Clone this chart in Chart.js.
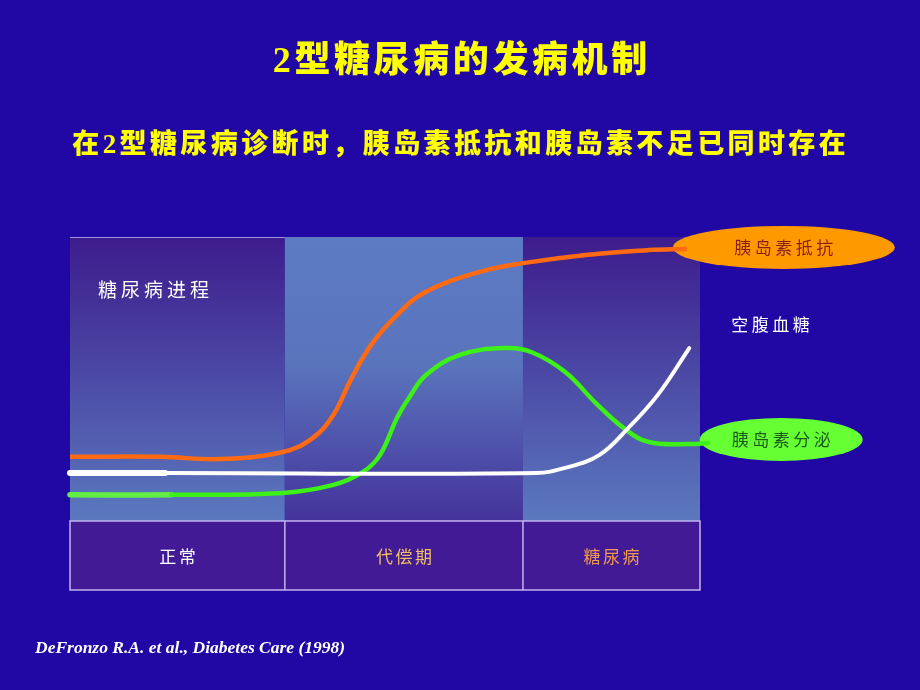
<!DOCTYPE html>
<html>
<head>
<meta charset="utf-8">
<script src="https://cdn.jsdelivr.net/npm/chart.js@4.4.1/dist/chart.umd.min.js"></script>
<style>
html,body{margin:0;padding:0;background:#2107a4;}
#wrap{position:relative;width:920px;height:690px;}
canvas{display:block;}
</style>
</head>
<body>
<div id="wrap"><canvas id="c" width="920" height="690"></canvas></div>
<script>
// ---- Data (x: disease time course 0-100, y: relative level 0-100) ----
const titleText = '2型糖尿病的发病机制';
const subtitleText = '在2型糖尿病诊断时，胰岛素抵抗和胰岛素不足已同时存在';
const citationText = 'DeFronzo R.A. et al., Diabetes Care (1998)';
const axisCaption = '糖尿病进程';

const stageLabels = ['正常', '代偿期', '糖尿病'];
const stageEdges = [0, 34.1, 71.9, 100];

const seriesNames = ['胰岛素抵抗', '空腹血糖', '胰岛素分泌'];

const timeResistance = [0, 14.4, 23.8, 33.8, 38.5, 41.8, 44.4, 47.8, 51.9, 56.5, 65.2, 71.9, 81.9, 91.9, 97.9];
const insulinResistance = [22.6, 22.6, 21.8, 24.3, 29.2, 37.3, 49, 62, 72.5, 80.7, 87.8, 90.8, 93.7, 95.4, 95.8];

const timeGlucose = [0, 15.1, 73.9, 78.6, 84, 88.6, 93.3, 98.3];
const fastingGlucose = [16.9, 16.9, 16.9, 18.7, 23.2, 32.7, 44.4, 60.9];

const timeSecretion = [0, 16.1, 33.8, 41.8, 46.5, 49.2, 51.9, 53.8, 56.5, 61.9, 69.2, 73.2, 78.6, 83.3, 87.9, 91.9, 98.6, 101.3];
const insulinSecretion = [9.2, 9.2, 9.9, 12.7, 17.3, 23.2, 36.3, 43.3, 51.4, 58.5, 60.9, 59.5, 52.5, 41.9, 32.7, 27.8, 27.1, 27.5];

const toPoints = (xs, ys) => xs.map((x, i) => ({x: x, y: ys[i]}));

const CJK = '"Noto Sans CJK SC", sans-serif';
const SERIF_CJK = '"Liberation Serif", "Noto Sans CJK SC", serif';

function spacedText(ctx, text, cx, cy, font, color, spacing, align) {
  ctx.save();
  ctx.font = font;
  ctx.fillStyle = color;
  ctx.textBaseline = 'middle';
  ctx.textAlign = 'left';
  let hasLS = ('letterSpacing' in ctx);
  if (hasLS) ctx.letterSpacing = spacing + 'px';
  const w = ctx.measureText(text).width - (hasLS ? spacing : 0);
  let x = cx;
  if (align === 'center') x = cx - w / 2;
  ctx.fillText(text, x, cy);
  ctx.restore();
}

const slidePlugin = {
  id: 'slide',
  beforeDatasetsDraw(chart) {
    const ctx = chart.ctx;
    const a = chart.chartArea;
    const xs = chart.scales.x;
    ctx.save();
    for (let i = 0; i < stageLabels.length; i++) {
      const x0 = xs.getPixelForValue(stageEdges[i]);
      const x1 = xs.getPixelForValue(stageEdges[i + 1]);
      const g = ctx.createLinearGradient(0, a.top, 0, a.bottom);
      if (i === 1) { g.addColorStop(0, '#5c7bc3'); g.addColorStop(0.45, '#5a74bc'); g.addColorStop(1, '#44339b'); }
      else { g.addColorStop(0, '#3d1c8c'); g.addColorStop(1, '#5b79bf'); }
      ctx.fillStyle = g;
      ctx.fillRect(x0, a.top, x1 - x0, a.bottom - a.top);
    }
    ctx.strokeStyle = '#9d8fe0';
    ctx.lineWidth = 1;
    ctx.beginPath();
    ctx.moveTo(xs.getPixelForValue(stageEdges[0]), a.top + 0.5);
    ctx.lineTo(xs.getPixelForValue(stageEdges[1]), a.top + 0.5);
    ctx.stroke();
    const tTop = a.bottom, tBot = a.bottom + 69;
    ctx.fillStyle = '#421a95';
    ctx.fillRect(a.left, tTop, a.right - a.left, tBot - tTop);
    ctx.strokeStyle = '#c4b4ee';
    ctx.lineWidth = 1.5;
    ctx.strokeRect(a.left, tTop, a.right - a.left, tBot - tTop);
    for (let i = 1; i < stageEdges.length - 1; i++) {
      const x = xs.getPixelForValue(stageEdges[i]);
      ctx.beginPath(); ctx.moveTo(x, tTop); ctx.lineTo(x, tBot); ctx.stroke();
    }
    const endR = chart.getDatasetMeta(0).data; const pr = endR[endR.length - 1];
    const endS = chart.getDatasetMeta(2).data; const ps = endS[endS.length - 1];
    ctx.fillStyle = '#ff9900';
    ctx.beginPath(); ctx.ellipse(pr.x + 97, pr.y - 1.5, 111, 21.5, 0, 0, Math.PI * 2); ctx.fill();
    ctx.fillStyle = '#66ff33';
    ctx.beginPath(); ctx.ellipse(ps.x + 73, ps.y - 3.5, 81.5, 21.5, 0, 0, Math.PI * 2); ctx.fill();
    ctx.restore();
  },
  afterDatasetsDraw(chart) {
    const ctx = chart.ctx;
    const a = chart.chartArea;
    const xs = chart.scales.x;
    const W = chart.width;
    spacedText(ctx, titleText, W / 2, 63, '900 36px ' + SERIF_CJK, '#ffff00', 3.6, 'center');
    spacedText(ctx, subtitleText, W / 2 - 1, 146, '900 27px ' + SERIF_CJK, '#ffff00', 3.4, 'center');
    spacedText(ctx, axisCaption, a.left + 28, a.top + 53, '19px ' + CJK, '#ffffff', 4, 'left');
    const stageColors = ['#ffffff', '#efc060', '#f09a50'];
    for (let i = 0; i < stageLabels.length; i++) {
      const cx = (xs.getPixelForValue(stageEdges[i]) + xs.getPixelForValue(stageEdges[i + 1])) / 2;
      spacedText(ctx, stageLabels[i], cx, a.bottom + 36, '17px ' + CJK, stageColors[i], 2.5, 'center');
    }
    const endR = chart.getDatasetMeta(0).data; const pr = endR[endR.length - 1];
    const endG = chart.getDatasetMeta(1).data; const pg = endG[endG.length - 1];
    const endS = chart.getDatasetMeta(2).data; const ps = endS[endS.length - 1];
    spacedText(ctx, seriesNames[0], pr.x + 97, pr.y - 1.5, '17px ' + CJK, '#8a1e12', 3.5, 'center');
    spacedText(ctx, seriesNames[1], pg.x + 42, pg.y - 23, '17px ' + CJK, '#ffffff', 3.5, 'left');
    spacedText(ctx, seriesNames[2], ps.x + 73, ps.y - 3.5, '17px ' + CJK, '#1c5a1c', 3.5, 'center');
    spacedText(ctx, citationText, 35, 648, 'italic bold 17.5px "Liberation Serif", serif', '#ffffff', 0, 'left');
  }
};

new Chart(document.getElementById('c'), {
  type: 'line',
  data: {
    datasets: [
      {
        label: seriesNames[0],
        data: toPoints(timeResistance, insulinResistance),
        borderColor: '#ff6a12',
        borderWidth: 4.5,
        tension: 0.4,
        pointRadius: 0,
        clip: false,
        borderCapStyle: 'butt'
      },
      {
        label: seriesNames[1],
        data: toPoints(timeGlucose, fastingGlucose),
        borderColor: '#ffffff',
        borderWidth: 4,
        tension: 0.4,
        pointRadius: 0,
        clip: false,
        borderCapStyle: 'round',
        segment: { borderWidth: c => c.p1DataIndex <= 1 ? 6 : 4 }
      },
      {
        label: seriesNames[2],
        data: toPoints(timeSecretion, insulinSecretion),
        borderColor: '#3cf018',
        borderWidth: 4.5,
        tension: 0.4,
        pointRadius: 0,
        clip: false,
        borderCapStyle: 'round',
        segment: {
          borderWidth: c => c.p1DataIndex <= 1 ? 5.5 : 4.5,
          borderColor: c => c.p1DataIndex <= 1 ? '#62ee44' : '#3cf018'
        }
      }
    ]
  },
  options: {
    responsive: false,
    devicePixelRatio: 1,
    animation: false,
    layout: { padding: { left: 70, right: 220, top: 237, bottom: 169 } },
    scales: {
      x: { type: 'linear', min: 0, max: 100, display: false },
      y: { type: 'linear', min: 0, max: 100, display: false }
    },
    plugins: { legend: { display: false }, tooltip: { enabled: false }, title: { display: false } }
  },
  plugins: [slidePlugin]
});
</script>
</body>
</html>
